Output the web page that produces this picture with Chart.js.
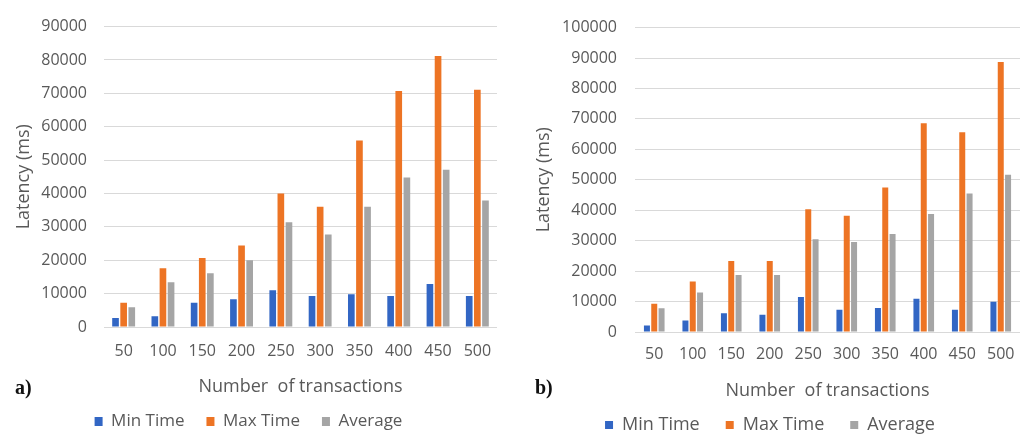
<!DOCTYPE html>
<html>
<head>
<meta charset="utf-8">
<script src="https://cdn.jsdelivr.net/npm/chart.js@4"></script>
<style>
  html, body { margin: 0; padding: 0; background: #fff; overflow: hidden; }
  body { width: 1030px; height: 435px; position: relative; }
  .box { position: absolute; top: 0; width: 510px; height: 450px; }
  .tag { position: absolute; font-family: "Liberation Serif", serif; font-weight: bold; font-size: 20px; color: #111; }
</style>
</head>
<body>
<div class="box" style="left:0"><canvas id="chartA"></canvas></div>
<div class="box" style="left:520px"><canvas id="chartB"></canvas></div>
<div class="tag" style="left:15px; top:376px">a)</div>
<div class="tag" style="left:535px; top:376px">b)</div>
<script>
// transactions on the x axis
const categories = ["50", "100", "150", "200", "250", "300", "350", "400", "450", "500"];
const seriesNames = ["Min Time", "Max Time", "Average"];
const seriesColors = ["#3266C4", "#ED7424", "#A5A5A5"];

// chart a) latency in ms
const minTimeA = [2700, 3200, 7300, 8300, 11000, 9300, 9800, 9300, 12900, 9300];
const maxTimeA = [7300, 17600, 20700, 24400, 40000, 36000, 55900, 70700, 81200, 71100];
const averageA = [5900, 13400, 16100, 20000, 31400, 27700, 36000, 44800, 47100, 37900];

// chart b) latency in ms
const minTimeB = [2100, 3800, 6200, 5700, 11500, 7300, 7900, 10900, 7300, 9900];
const maxTimeB = [9300, 16600, 23300, 23300, 40300, 38200, 47500, 68600, 65600, 88700];
const averageB = [7800, 13000, 18700, 18700, 30500, 29600, 32200, 38800, 45500, 51700];

const textColor = "#595959";
const fontName = "'Open Sans', sans-serif";

function makeChart(id, series, cfg) {
  const ctx = document.getElementById(id).getContext("2d");
  return new Chart(ctx, {
    type: "bar",
    data: {
      labels: categories,
      datasets: series.map((vals, i) => ({
        label: seriesNames[i],
        data: vals,
        backgroundColor: seriesColors[i],
        borderWidth: 0,
        categoryPercentage: cfg.catPct,
        barPercentage: 0.82
      }))
    },
    options: {
      responsive: true,
      maintainAspectRatio: false,
      animation: false,
      layout: { padding: { top: 19, left: 0, right: cfg.padRight, bottom: cfg.padBottom } },
      plugins: {
        tooltip: { enabled: false },
        legend: {
          position: "bottom",
          labels: {
            color: textColor,
            font: { family: fontName, size: cfg.legendSize },
            boxWidth: 8,
            boxHeight: cfg.legendBox,
            padding: cfg.legendPad
          }
        }
      },
      scales: {
        x: {
          grid: { display: false },
          border: { display: false },
          ticks: { color: textColor, font: { family: fontName, size: 16 }, padding: cfg.xTickPad, maxRotation: 0 },
          title: {
            display: true,
            text: "Number  of transactions",
            color: textColor,
            font: { family: fontName, size: 18 },
            padding: { top: 0, bottom: cfg.xTitlePad }
          },
          afterFit: (s) => { s.height = cfg.xHeight; }
        },
        y: {
          min: 0,
          max: cfg.yMax,
          grid: { color: "#d9d9d9", lineWidth: 1, drawTicks: false },
          border: { display: false },
          ticks: {
            stepSize: 10000,
            color: textColor,
            font: { family: fontName, size: 16 },
            padding: cfg.yTickPad,
            callback: (v) => String(v)
          },
          title: {
            display: true,
            text: "Latency (ms)",
            color: textColor,
            font: { family: fontName, size: 18 },
            padding: { top: 13, bottom: 0 }
          },
          afterFit: (s) => { s.width = cfg.yWidth; }
        }
      }
    }
  });
}

makeChart("chartA", [minTimeA, maxTimeA, averageA], {
  catPct: 0.62, padRight: 13, padBottom: 10, yMax: 90000, yWidth: 104, yTickPad: 17,
  xHeight: 64, xTickPad: 7, xTitlePad: -7, legendSize: 17, legendBox: 9, legendPad: 22
});

makeChart("chartB", [minTimeB, maxTimeB, averageB], {
  catPct: 0.57, padRight: 10, padBottom: 6, yMax: 100000, yWidth: 115, yTickPad: 18,
  xHeight: 58, xTickPad: 5, xTitlePad: -12, legendSize: 18, legendBox: 8, legendPad: 26
});
</script>
</body>
</html>
